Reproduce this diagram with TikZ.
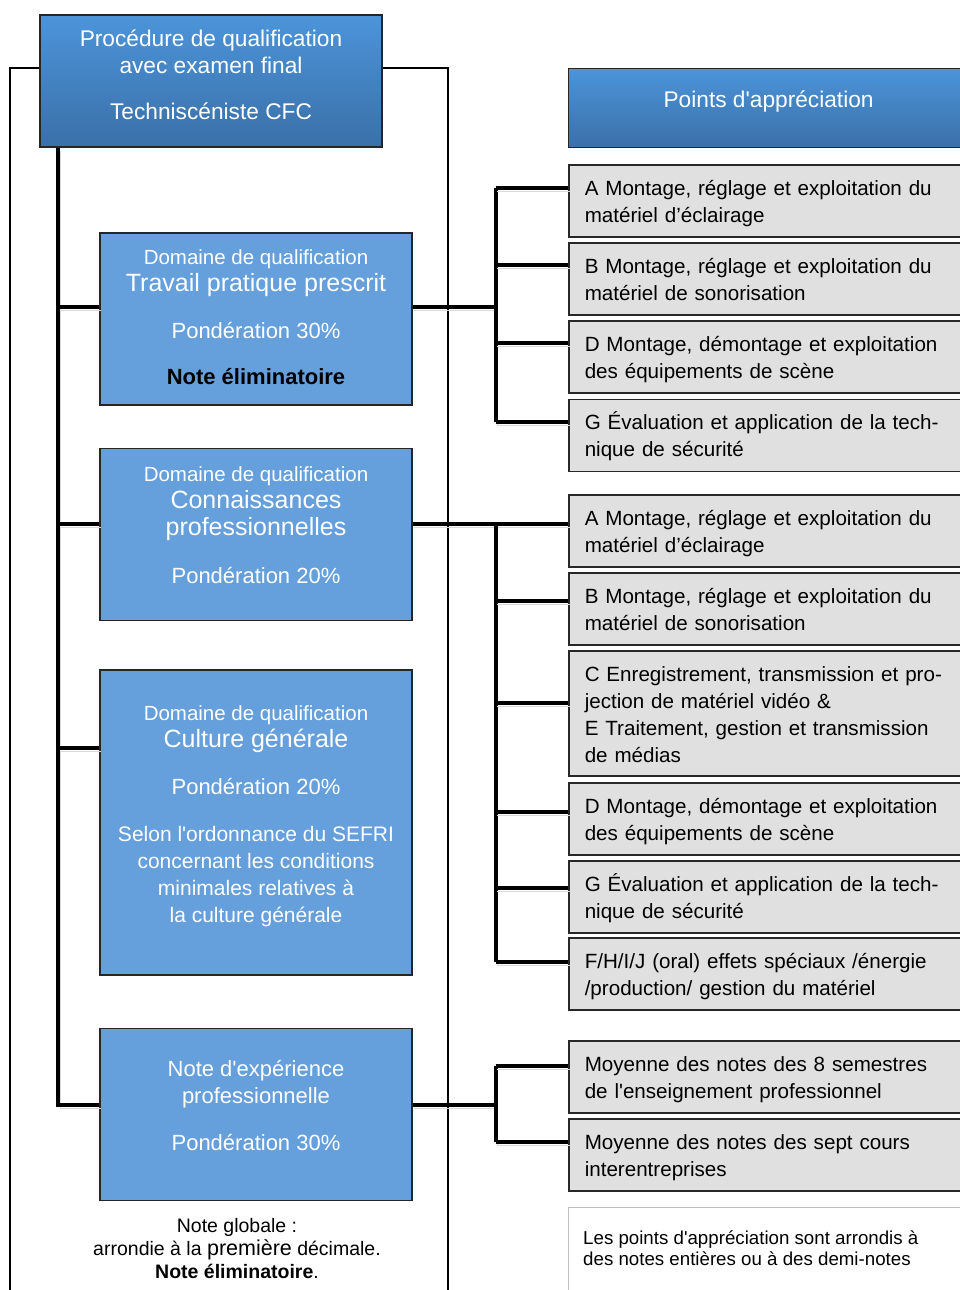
\documentclass[tikz,border=0pt]{standalone}
\usepackage{fontspec}
\setmainfont{Liberation Sans}[Ligatures=TeXOff]
\usetikzlibrary{positioning}

\definecolor{titletop}{RGB}{76,148,218}
\definecolor{titlebot}{RGB}{58,112,168}
\definecolor{domblue}{RGB}{101,159,220}
\definecolor{pointgray}{RGB}{224,224,224}
\definecolor{edgegray}{RGB}{40,40,40}

\tikzstyle{titlebox} = [draw=black!85,line width=1.2pt,top color=titletop,
  bottom color=titlebot,rectangle,inner sep=0pt]
\tikzstyle{dombox} = [draw=black!85,line width=1.2pt,fill=domblue,rectangle,
  minimum width=312pt,minimum height=172pt,inner sep=0pt]
\tikzstyle{whitetext} = [text=white,align=center,font=\fontsize{22}{27}\selectfont]
\tikzstyle{pointbox} = [draw=edgegray,line width=1.5pt,fill=pointgray,rectangle,
  anchor=west,text width=380pt,inner xsep=16pt,align=left,minimum height=72pt,
  text height=20pt,text depth=31pt,font=\fontsize{20.6}{27}\selectfont]
\tikzstyle{frame} = [line width=2.5pt]
\tikzstyle{bus} = [line width=4pt,preaction={draw=black!15,
  transform canvas={shift={(1.5pt,-3pt)}}}]

\newcommand{\dqsmall}{\fontsize{20.5}{27}\selectfont}
\newcommand{\dqbig}{\fontsize{25}{27}\selectfont}

\begin{document}
\begin{tikzpicture}[x=1pt,y=-1pt]
  \useasboundingbox (0,0) rectangle (960,1290);

  % left column
  \node [titlebox,minimum width=342pt,minimum height=132pt] (proc) at (211,81) {};
  \node [whitetext,font=\fontsize{22.7}{27}\selectfont] (proc-txt)
    at ([yshift=6pt]proc.center)
    {Procédure de qualification\\avec examen final\\[19pt]Techniscéniste CFC};

  \node [dombox] (dtp) at (256,319) {};
  \node [dombox,below=42pt of dtp] (dcp) {};
  \node [dombox,below=48.5pt of dcp,minimum height=305pt] (dcg) {};
  \node [dombox,below=52pt of dcg] (dnote) {};

  \node [whitetext] (dtp-txt) at ([yshift=1.5pt]dtp.center) {%
    {\dqsmall Domaine de qualification}\\{\dqbig Travail pratique prescrit}\\[20pt]
    Pondération 30\%\\[19pt]{\color{black}\bfseries Note éliminatoire}};
  \node [whitetext] (dcp-txt) at ([yshift=9pt]dcp.center) {%
    {\dqsmall Domaine de qualification}\\{\dqbig Connaissances}\\{\dqbig professionnelles}\\[21pt]
    Pondération 20\%};
  \node [whitetext] (dcg-txt) at ([yshift=6.5pt]dcg.center) {%
    {\dqsmall Domaine de qualification}\\{\dqbig Culture générale}\\[20pt]
    Pondération 20\%\\[20pt]
    {\fontsize{21}{27}\selectfont Selon l'ordonnance du SEFRI}\\
    {\fontsize{21}{27}\selectfont concernant les conditions}\\
    {\fontsize{21}{27}\selectfont minimales relatives à}\\
    {\fontsize{21}{27}\selectfont la culture générale}};
  \node [whitetext] (dnote-txt) at ([yshift=8.5pt]dnote.center) {%
    Note d'expérience\\professionnelle\\[20pt]Pondération 30\%};

  \node [align=center,font=\fontsize{19.5}{23}\selectfont] (global) at (237,1249) {%
    Note globale :\\arrondie à la {\fontsize{21.5}{23}\selectfont première} décimale.\\
    \textbf{Note éliminatoire}.};

  % right column
  \node [titlebox,anchor=north west,minimum width=400pt,minimum height=79pt] (pts) at (568,68) {};
  \node [whitetext,font=\fontsize{22.7}{27}\selectfont] (pts-txt) at ([yshift=6.5pt]pts.center)
    {Points d'appréciation};

  \node [pointbox] (a1) at (568,201) {A Montage, réglage et exploitation du\\matériel d’éclairage};
  \node [pointbox,below=4.6pt of a1] (b1) {B Montage, réglage et exploitation du\\matériel de sonorisation};
  \node [pointbox,below=4.6pt of b1] (d1) {D Montage, démontage et exploitation\\des équipements de scène};
  \node [pointbox,below=4.6pt of d1] (g1) {G Évaluation et application de la tech-\\nique de sécurité};

  \node [pointbox] (a2) at (568,531) {A Montage, réglage et exploitation du\\matériel d’éclairage};
  \node [pointbox,below=4.5pt of a2] (b2) {B Montage, réglage et exploitation du\\matériel de sonorisation};
  \node [pointbox,below=4.5pt of b2,minimum height=125pt,text depth=84pt] (c2)
    {C Enregistrement, transmission et pro-\\
    jection de matériel vidéo \&\\E Traitement, gestion et transmission\\de médias};
  \node [pointbox,below=5.5pt of c2] (d2) {D Montage, démontage et exploitation\\des équipements de scène};
  \node [pointbox,below=4.5pt of d2] (g2) {G Évaluation et application de la tech-\\nique de sécurité};
  \node [pointbox,below=3.5pt of g2] (f2) {F/H/I/J (oral) effets spéciaux /énergie\\/production/ gestion du matériel};

  \node [pointbox] (m1) at (568,1077) {Moyenne des notes des 8 semestres\\de l'enseignement professionnel};
  \node [pointbox,below=4.5pt of m1] (m2) {Moyenne des notes des sept cours\\interentreprises};

  \node [draw=black!25,line width=1.2pt,fill=white,anchor=north west,minimum width=400pt,
    minimum height=100pt] (remark) at (568,1207) {};
  \node [anchor=north west,align=left,inner sep=0pt,font=\fontsize{18.7}{21}\selectfont]
    (remark-txt) at ([xshift=15pt,yshift=-24pt]remark.north west)
    {Les points d'appréciation sont arrondis à\\des notes entières ou à des demi-notes};

  % outer frame
  \coordinate (frameL) at (10,1292);
  \coordinate (frameR) at (448,1292);
  \draw [frame] ([yshift=13pt]proc.west) -| (frameL);
  \draw [frame] ([yshift=13pt]proc.east) -| (frameR);

  % trunk to the domains
  \coordinate (trunk) at ([xshift=19pt]proc.south west);
  \coordinate (dtp-b) at ([yshift=12pt]dtp.west);
  \coordinate (dcp-b) at ([yshift=10pt]dcp.west);
  \coordinate (dcg-b) at ([yshift=74.5pt]dcg.west);
  \coordinate (dnote-b) at ([yshift=9pt]dnote.west);
  \draw [bus] (trunk) |- (dnote-b);
  \foreach \d in {dtp,dcp,dcg}
    \draw [bus] (trunk |- \d-b) -- (\d-b);

  % branch points of the appreciation boxes
  \foreach \n/\s in {a1/13,b1/14,d1/14,g1/13,a2/7,b2/8,c2/10.5,d2/7,g2/9,f2/12,m1/11,m2/13}
    \coordinate (\n-b) at ([yshift=\s pt]\n.west);
  \coordinate (bus) at ([xshift=83pt]dtp.east);

  % travail pratique
  \draw [bus] (dtp-b -| dtp.east) -- (dtp-b -| bus);
  \draw [bus] (a1-b -| bus) -- (g1-b -| bus);
  \foreach \n in {a1,b1,d1,g1}
    \draw [bus] (\n-b -| bus) -- (\n-b);

  % connaissances professionnelles
  \draw [bus] (a2-b -| dcp.east) -- (a2-b);
  \draw [bus] (a2-b -| bus) -- (f2-b -| bus);
  \foreach \n in {b2,c2,d2,g2,f2}
    \draw [bus] (\n-b -| bus) -- (\n-b);

  % note d'experience
  \draw [bus] (dnote-b -| dnote.east) -- (dnote-b -| bus);
  \draw [bus] (m1-b -| bus) -- (m2-b -| bus);
  \foreach \n in {m1,m2}
    \draw [bus] (\n-b -| bus) -- (\n-b);
\end{tikzpicture}
\end{document}
